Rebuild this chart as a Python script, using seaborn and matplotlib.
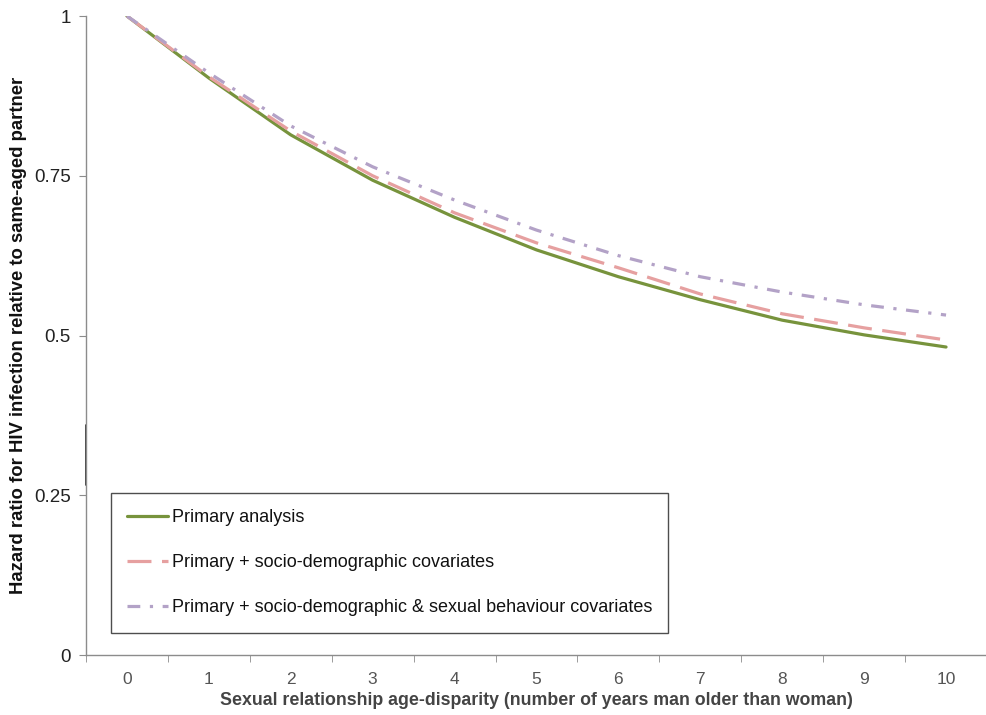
import numpy as np
import pandas as pd
import matplotlib
matplotlib.use("Agg")
import matplotlib.pyplot as plt
import seaborn as sns
from matplotlib.lines import Line2D

# ---- data ----
years = [0, 1, 2, 3, 4, 5, 6, 7, 8, 9, 10]
primary = [1.0, 0.903, 0.814, 0.743, 0.685, 0.634, 0.592, 0.556, 0.524, 0.501, 0.482]
socio = [1.0, 0.905, 0.820, 0.750, 0.692, 0.645, 0.606, 0.565, 0.534, 0.512, 0.493]
socio_sex = [1.0, 0.911, 0.828, 0.764, 0.712, 0.665, 0.625, 0.592, 0.568, 0.548, 0.532]
series_names = ["Primary analysis",
                "Primary + socio-demographic covariates",
                "Primary + socio-demographic & sexual behaviour covariates"]
ytick_vals = [0, 0.25, 0.5, 0.75, 1]
ytick_labels = ["0", "0.25", "0.5", "0.75", "1"]

df = pd.DataFrame({
    "x": years * 3,
    "y": primary + socio + socio_sex,
    "series": [series_names[0]] * len(years) + [series_names[1]] * len(years) + [series_names[2]] * len(years),
})

colors = {series_names[0]: "#77933C", series_names[1]: "#E6A0A0", series_names[2]: "#B3A2C7"}
dashes = {series_names[0]: "", series_names[1]: (7.5, 3.3), series_names[2]: (4, 3, 1, 3)}

sns.set_style("white")
plt.rcParams["font.family"] = ["Liberation Sans", "DejaVu Sans"]

fig = plt.figure(figsize=(9.87, 7.15), dpi=100)
ax = fig.add_axes([0.0871, 0.0839, 0.9129, 0.8937])

sns.lineplot(data=df, x="x", y="y", hue="series", style="series",
             palette=colors, dashes=dashes, linewidth=2.3, ax=ax, legend=False)

ax.set_xlim(-0.5, 10.45)
ax.set_ylim(0, 1)

axis_col = "#8C8C8C"
for s in ["top", "right"]:
    ax.spines[s].set_visible(False)
for s in ["left", "bottom"]:
    ax.spines[s].set_color(axis_col)
    ax.spines[s].set_linewidth(1.0)

ax.set_yticks(ytick_vals)
ax.set_yticklabels(ytick_labels)
ax.tick_params(axis="y", direction="out", length=5, color=axis_col, labelsize=13.5,
               labelcolor="#222222", pad=6, left=True)

ax.set_xticks(years)
ax.set_xticklabels([str(v) for v in years])
ax.set_xticks([v - 0.5 for v in years] + [10.5], minor=True)
ax.tick_params(axis="x", which="major", length=0, labelsize=12.5, labelcolor="#555555", pad=12)
ax.tick_params(axis="x", which="minor", direction="out", length=5, color=axis_col, bottom=True)

# small dark mark on left axis
ax.plot([-0.5, -0.5], [0.266, 0.36], color="#222222", lw=1.2, clip_on=False)

ax.set_xlabel("Sexual relationship age-disparity (number of years man older than woman)",
              fontsize=12.8, fontweight="bold", color="#444444", labelpad=4)
ax.set_ylabel("Hazard ratio for HIV infection relative to same-aged partner",
              fontsize=13.3, fontweight="bold", color="#111111", labelpad=5)

handles = [Line2D([0], [0], color=colors[series_names[0]], lw=2.3, linestyle="-"),
           Line2D([0], [0], color=colors[series_names[1]], lw=2.3, dashes=dashes[series_names[1]]),
           Line2D([0], [0], color=colors[series_names[2]], lw=2.3, dashes=dashes[series_names[2]])]
leg = ax.legend(handles, series_names, loc="lower left", bbox_to_anchor=(0.0275, 0.035),
                frameon=True, fancybox=False, edgecolor="#222222", fontsize=13,
                handlelength=2.25, handletextpad=0.22, labelspacing=1.55,
                borderpad=0.9, borderaxespad=0)
leg.get_frame().set_linewidth(1.0)
for t in leg.get_texts():
    t.set_color("#111111")

fig.savefig("out.png", dpi=100)
